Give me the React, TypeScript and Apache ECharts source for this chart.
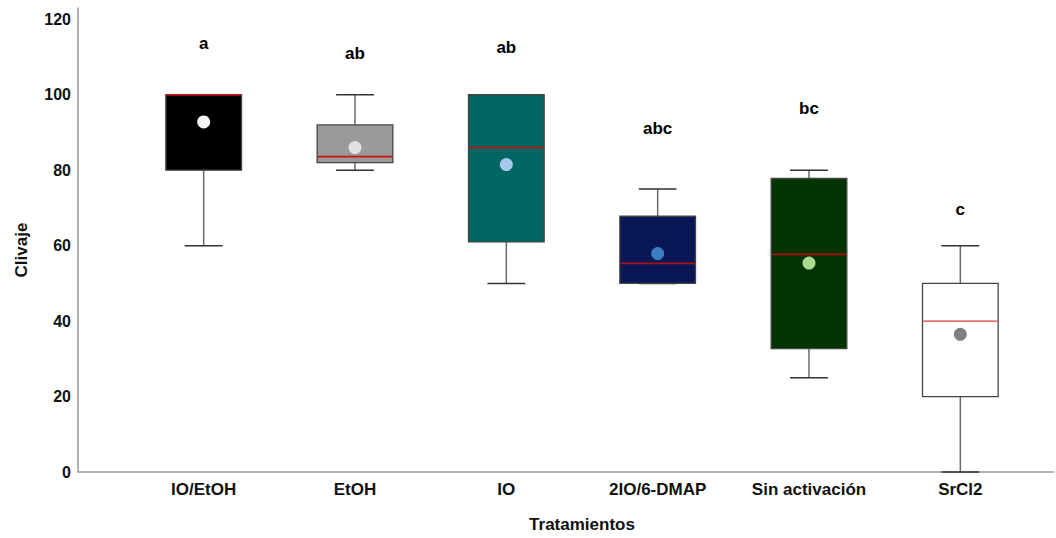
import React, { useEffect, useRef } from "react";
import * as echarts from "echarts";

const categories = ["IO/EtOH", "EtOH", "IO", "2IO/6-DMAP", "Sin activación", "SrCl2"];
// [min, Q1, median, Q3, max]
const boxValues = [
  [60, 80, 100, 100, 100],
  [80, 82, 83.6, 92, 100],
  [50, 61, 86, 100, 100],
  [50, 50, 55.3, 67.8, 75],
  [25, 32.7, 57.7, 77.8, 80],
  [0, 20, 40, 50, 60],
];
const means = [92.8, 86, 81.5, 57.9, 55.4, 36.5];
const letters = ["a", "ab", "ab", "abc", "bc", "c"];
const letterY = [113.6, 111, 112.6, 91, 96.4, 69.6];
const yTicks = [0, 20, 40, 60, 80, 100, 120];

const boxColors = ["#000000", "#9a9a9a", "#006664", "#0a1757", "#023300", "#ffffff"];
const medianColors = ["#d01010", "#d01010", "#c01010", "#b01010", "#b01010", "#ee7070"];
const meanColors = ["#f4f4f4", "#e2e2e2", "#a6c8ea", "#3a7dc2", "#a8da90", "#808080"];

export default function App() {
  const ref = useRef<HTMLDivElement>(null);
  useEffect(() => {
    const chart = echarts.init(ref.current!, null, { renderer: "svg" });
    const font = "Liberation Sans, Arial, sans-serif";
    const boxData = boxValues.map((v, i) => [i, ...v]);
    chart.setOption({
      animation: false,
      backgroundColor: "#ffffff",
      grid: { left: 128, right: 20, top: 8, bottom: 66 },
      xAxis: {
        type: "category",
        data: categories,
        axisLine: { show: false },
        axisTick: { show: false },
        axisLabel: { color: "#111", fontWeight: "bold", fontSize: 17, fontFamily: font, margin: 9 },
        name: "Tratamientos",
        nameLocation: "middle",
        nameGap: 44,
        nameTextStyle: { color: "#111", fontWeight: "bold", fontSize: 17, fontFamily: font },
      },
      yAxis: {
        type: "value",
        min: 0,
        max: 123,
        interval: 20,
        offset: 50,
        splitLine: { show: false },
        axisTick: { show: false },
        axisLine: { show: true, lineStyle: { color: "#999", width: 1.5 } },
        axisLabel: {
          color: "#111",
          fontWeight: "bold",
          fontSize: 16,
          fontFamily: font,
          margin: 7,
          formatter: (v: number) => (yTicks.includes(v) ? String(v) : ""),
        },
        name: "Clivaje",
        nameLocation: "middle",
        nameGap: 48,
        nameTextStyle: {
          color: "#111",
          fontWeight: "bold",
          fontSize: 17,
          fontFamily: font,
          padding: [0, 20, 0, 0],
        },
      },
      graphic: [
        {
          type: "line",
          shape: { x1: 78, y1: 472, x2: 1054, y2: 472 },
          style: { stroke: "#999", lineWidth: 1.5 },
          z: 1,
        },
      ],
      series: [
        {
          type: "custom",
          data: boxData,
          encode: { x: 0, y: [1, 2, 3, 4, 5] },
          z: 2,
          renderItem: (params: any, api: any) => {
            const idx = api.value(0);
            const lo = api.coord([idx, api.value(1)]);
            const q1 = api.coord([idx, api.value(2)]);
            const med = api.coord([idx, api.value(3)]);
            const q3 = api.coord([idx, api.value(4)]);
            const hi = api.coord([idx, api.value(5)]);
            const band = api.size([1, 0])[0];
            const bw = band * 0.5;
            const cw = bw * 0.5;
            const x = lo[0];
            const whisk = { stroke: "#6a6a6a", lineWidth: 1.5 };
            const cap = { stroke: "#333", lineWidth: 1.5 };
            return {
              type: "group",
              children: [
                { type: "line", shape: { x1: x, y1: lo[1], x2: x, y2: q1[1] }, style: whisk },
                { type: "line", shape: { x1: x, y1: q3[1], x2: x, y2: hi[1] }, style: whisk },
                { type: "line", shape: { x1: x - cw / 2, y1: lo[1], x2: x + cw / 2, y2: lo[1] }, style: cap },
                { type: "line", shape: { x1: x - cw / 2, y1: hi[1], x2: x + cw / 2, y2: hi[1] }, style: cap },
                {
                  type: "rect",
                  shape: { x: x - bw / 2, y: q3[1], width: bw, height: q1[1] - q3[1] },
                  style: { fill: boxColors[idx], stroke: "#444", lineWidth: 1.3 },
                },
                {
                  type: "line",
                  shape: { x1: x - bw / 2 + 0.7, y1: med[1], x2: x + bw / 2 - 0.7, y2: med[1] },
                  style: { stroke: medianColors[idx], lineWidth: 1.6 },
                },
              ],
            };
          },
        },
        {
          type: "scatter",
          z: 3,
          symbolSize: 13,
          data: means.map((m, i) => ({ value: [i, m], itemStyle: { color: meanColors[i], opacity: 1 } })),
        },
        {
          type: "custom",
          z: 4,
          data: letters.map((l, i) => [i, letterY[i], l]),
          encode: { x: 0, y: 1 },
          renderItem: (params: any, api: any) => {
            const i = params.dataIndex;
            const p = api.coord([api.value(0), api.value(1)]);
            return {
              type: "text",
              x: p[0],
              y: p[1],
              style: {
                text: letters[i],
                fill: "#000",
                font: "bold 17px Liberation Sans, Arial, sans-serif",
                align: "center",
                verticalAlign: "middle",
              },
            };
          },
        },
      ],
    });
    return () => chart.dispose();
  }, []);
  return <div ref={ref} style={{ width: 1056, height: 538, position: "absolute", left: 0, top: 0 }} />;
}
